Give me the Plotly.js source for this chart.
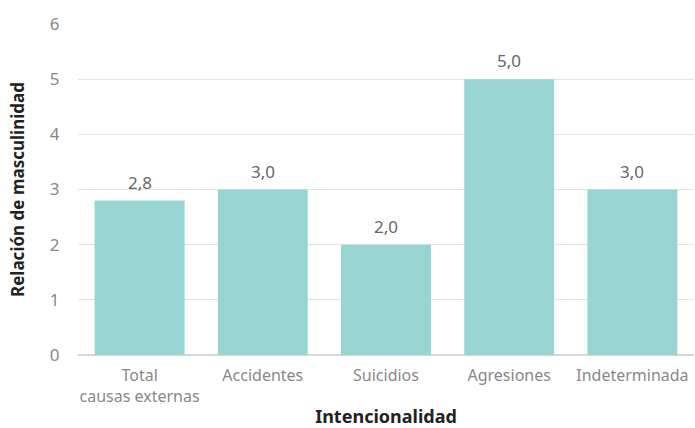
<!DOCTYPE html>
<html>
<head>
<meta charset="utf-8">
<script src="https://cdn.plot.ly/plotly-3.0.1.min.js"></script>
<style>html,body{margin:0;padding:0;background:#fff}#chart{width:695px;height:428px}</style>
</head>
<body>
<div id="chart"></div>
<script>
const categories = ["Total<br>causas externas", "Accidentes", "Suicidios", "Agresiones", "Indeterminada"];
const values = [2.8, 3.0, 2.0, 5.0, 3.0];
const valueLabels = ["2,8", "3,0", "2,0", "5,0", "3,0"];
const yTicks = [0, 1, 2, 3, 4, 5, 6];

const font = "Noto Sans, Open Sans, sans-serif";
const annotations = categories.map((c, i) => ({
  x: c, y: values[i], xref: "x", yref: "y",
  text: valueLabels[i], showarrow: false,
  yanchor: "bottom", yshift: 5,
  font: {family: font, size: 17, color: "#666"}
}));
Plotly.newPlot("chart", [{
  type: "bar",
  x: categories,
  y: values,
  marker: {color: "#98d5d2"},
  hoverinfo: "none"
}], {
  width: 695, height: 428,
  margin: {l: 78, r: 1, t: 24, b: 73},
  paper_bgcolor: "#fff", plot_bgcolor: "#fff",
  bargap: 0.27,
  font: {family: font, color: "#888", size: 17},
  annotations: annotations,
  xaxis: {
    tickfont: {family: font, size: 16, color: "#888"},
    ticks: "outside", ticklen: 6, tickcolor: "rgba(0,0,0,0)",
    title: {text: "Intencionalidad", font: {family: font, size: 18, color: "#222", weight: "bold"}, standoff: 6},
    showline: false
  },
  yaxis: {
    range: [0, 6],
    tickvals: yTicks,
    tickfont: {family: font, size: 17, color: "#888"},
    ticks: "outside", ticklen: 14, tickcolor: "rgba(0,0,0,0)",
    gridcolor: "#e2e2e2", gridwidth: 1.3,
    zeroline: true, zerolinecolor: "#d6d6d6", zerolinewidth: 1.5,
    title: {text: "Relación de masculinidad", font: {family: font, size: 17, color: "#222", weight: "bold"}, standoff: 20}
  },
  showlegend: false
}, {displayModeBar: false, staticPlot: true});
</script>
</body>
</html>
